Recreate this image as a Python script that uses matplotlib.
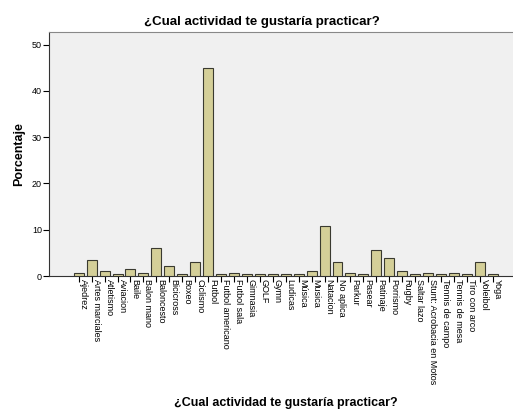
import matplotlib
matplotlib.use("Agg")
import matplotlib.pyplot as plt
import numpy as np

categories = ["Ajedrez", "Artes marciales", "Atletismo", "Aviacion", "Baile", "Balon mano",
              "Baloncesto", "Bicicross", "Boxeo", "Ciclismo", "Futbol", "Futbol americano",
              "Futbol sala", "Gimnasia", "GOLF", "Gymn", "Ludicas", "Música", "Musica",
              "Natacion", "No aplica", "Parkur", "Pasear", "Patinaje", "Porrismo", "Rugby",
              "Saltar lazo", "Stunt: Acrobacia en Motos", "Tennis de campo", "Tennis de mesa",
              "Tiro con arco", "Voleibol", "Yoga"]
percent = [0.74, 3.4, 1.15, 0.37, 1.5, 0.74,
           6.0, 2.25, 0.37, 3.0, 44.9, 0.37,
           0.74, 0.37, 0.37, 0.37, 0.37, 0.37, 1.15,
           10.9, 3.0, 0.74, 0.37, 5.6, 3.8, 1.15,
           0.37, 0.74, 0.37, 0.74,
           0.37, 3.0, 0.37]
yticks = [0, 10, 20, 30, 40, 50]

plt.rcParams['font.family'] = ['Liberation Sans', 'DejaVu Sans']

W, H = 513, 409
fig = plt.figure(figsize=(W / 100, H / 100), dpi=100)
fig.patch.set_facecolor('white')
ax = fig.add_axes([49 / W, 1 - 276 / H, 1 - 49 / W, (276 - 32) / H])
ax.set_facecolor('#F0F0F0')

x = np.arange(len(categories))
ax.bar(x, percent, width=0.77, color='#D4CF98', edgecolor='#3a3a30', linewidth=0.8, zorder=3)

unit = 12.94
left_units = (78.7 - 49) / unit
ax.set_xlim(-left_units, -left_units + (W - 49) / unit)
ax.set_ylim(0, 52.7)
ax.set_yticks(yticks)
ax.set_yticklabels([str(v) for v in yticks], fontsize=6.5)
ax.set_xticks(x)
ax.set_xticklabels(categories, rotation=-90, fontsize=6.5, ha='left', va='top')
ax.tick_params(axis='y', length=4, width=0.8, color='black', pad=1)
ax.tick_params(axis='x', length=4, width=0.8, color='black', pad=-2)
for lbl in ax.get_xticklabels():
    lbl.set_x(lbl.get_position()[0])

ax.spines['top'].set_color('#888888')
ax.spines['right'].set_visible(False)
for s in ['left', 'bottom']:
    ax.spines[s].set_color('#333333')
    ax.spines[s].set_linewidth(0.8)

ax.set_ylabel('Porcentaje', fontsize=9, fontweight='bold', labelpad=5)
fig.text(262 / W, 1 - 22 / H, '¿Cual actividad te gustaría practicar?', fontsize=9.5,
         fontweight='bold', ha='center', va='center')
fig.text(286 / W, 1 - 403 / H, '¿Cual actividad te gustaría practicar?', fontsize=9,
         fontweight='bold', ha='center', va='center')

fig.savefig('out.png', dpi=100)
